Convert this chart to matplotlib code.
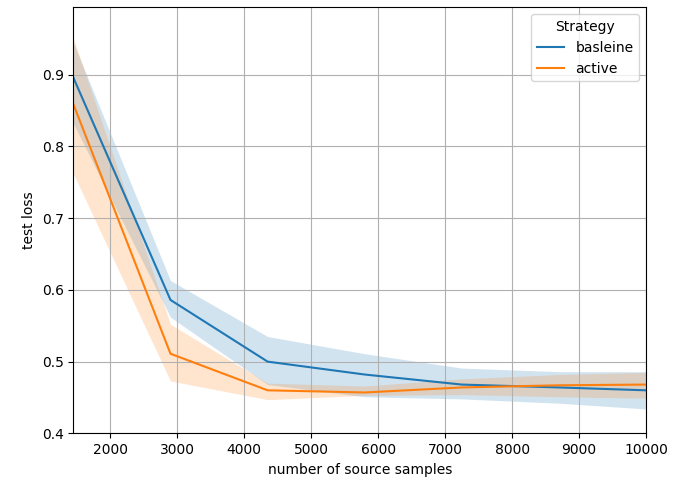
import numpy as np
import matplotlib
matplotlib.use("Agg")
import matplotlib.pyplot as plt

#### DATA ####
n_samples = [1450, 2900, 4350, 5800, 7250, 8700, 10000]

baseline_mean = [0.896, 0.586, 0.500, 0.482, 0.468, 0.464, 0.460]
baseline_low = [0.832, 0.562, 0.468, 0.451, 0.448, 0.442, 0.434]
baseline_high = [0.945, 0.613, 0.535, 0.511, 0.491, 0.486, 0.486]

active_mean = [0.859, 0.511, 0.460, 0.457, 0.464, 0.467, 0.468]
active_low = [0.762, 0.473, 0.447, 0.453, 0.454, 0.451, 0.449]
active_high = [0.951, 0.552, 0.470, 0.466, 0.476, 0.482, 0.485]

#### PLOT ####
fig = plt.figure(figsize=(6.73, 4.88), dpi=100)
ax = fig.add_axes([0.109, 0.112, 0.851, 0.873])

ax.fill_between(n_samples, baseline_low, baseline_high, color='tab:blue', alpha=0.2, linewidth=0)
ax.plot(n_samples, baseline_mean, color='tab:blue', label='basleine')
ax.fill_between(n_samples, active_low, active_high, color='tab:orange', alpha=0.2, linewidth=0)
ax.plot(n_samples, active_mean, color='tab:orange', label='active')

ax.set_xlim(n_samples[0], n_samples[-1])
ax.set_ylim(0.4, 0.994)
ax.grid(True)
ax.set_xlabel("number of source samples")
ax.set_ylabel("test loss")
ax.legend(title="Strategy", loc="upper right")

plt.savefig("out.png")
